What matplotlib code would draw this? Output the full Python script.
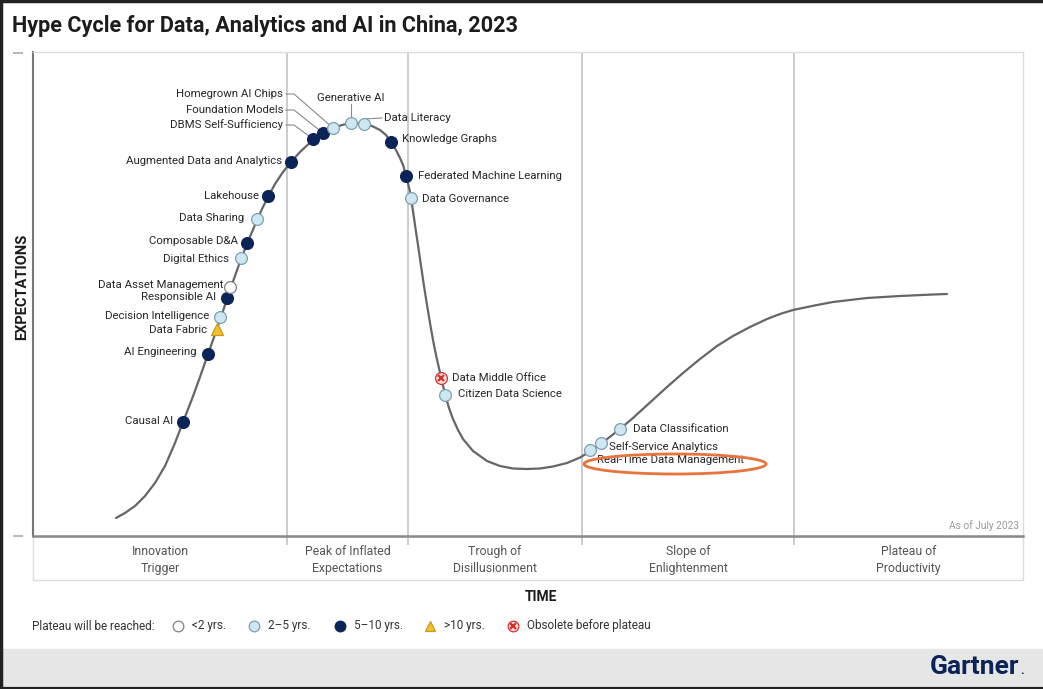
import matplotlib.pyplot as plt
from matplotlib.patches import Ellipse, Rectangle

plt.rcParams['font.family'] = ['Roboto', 'DejaVu Sans']

# hype curve (time, expectations)
curve_t = [83, 92, 102, 112, 122, 132, 142, 150, 159, 167, 175, 180, 184, 187, 191, 194, 197,
           203, 208, 214, 219, 224, 229, 235, 242, 250, 258, 267, 274, 280, 290, 300, 309, 318,
           325, 331, 339, 347, 353, 358, 363, 367, 370, 373, 375, 377, 378, 380, 382, 385, 387,
           391, 394, 397, 400, 403, 408, 412, 416, 420, 425, 430, 440, 454, 467, 480, 494, 507,
           520, 534, 547, 557, 569, 587, 600, 617, 634, 650, 667, 684, 700, 717, 734, 747, 760,
           784, 800, 834, 867, 900, 914]
curve_e = [18, 23, 30, 40, 53, 70, 93, 114, 137, 159, 182, 196, 207, 216, 228, 237, 246,
           263, 277, 292, 304, 316, 327, 339, 352, 364, 374, 384, 390.5, 396, 403, 408, 411, 413,
           413, 412, 410, 406, 401, 394, 386, 378, 371, 361, 353, 344, 338, 325, 311, 291, 277,
           250, 231, 213, 196, 181, 159, 142, 128, 117, 106, 97, 85, 75, 70, 67.5, 67, 67.5,
           69.5, 73, 78.5, 84.5, 93, 107, 118, 133.5, 149, 163, 177, 190, 200, 209, 217, 222, 226,
           231, 234, 238, 240, 241.5, 242]

# technologies on the curve
names = ['Causal AI', 'AI Engineering', 'Data Fabric', 'Decision Intelligence', 'Responsible AI',
         'Data Asset Management', 'Digital Ethics', 'Composable D&A', 'Data Sharing', 'Lakehouse',
         'Augmented Data and Analytics', 'DBMS Self-Sufficiency', 'Foundation Models',
         'Homegrown AI Chips', 'Generative AI', 'Data Literacy', 'Knowledge Graphs',
         'Federated Machine Learning', 'Data Governance', 'Data Middle Office',
         'Citizen Data Science', 'Real-Time Data Management', 'Self-Service Analytics',
         'Data Classification']
pos_t = [150, 175, 184, 187, 194, 197, 208, 214, 224, 235, 258, 280, 290, 300, 318, 331, 358,
         373, 378, 408, 412, 557, 568, 587]
pos_e = [114, 182, 207, 219, 238, 249, 278, 293, 317, 340, 374, 397, 403, 408, 413, 412, 394,
         360, 338, 158, 141, 86, 93, 107]
plateau = ['5-10', '5-10', '>10', '2-5', '5-10', '<2', '2-5', '5-10', '2-5', '5-10', '5-10',
           '5-10', '5-10', '2-5', '2-5', '2-5', '5-10', '5-10', '2-5', 'obs', '2-5', '2-5',
           '2-5', '2-5']

# label placement
lab_dx = [-10, -11, -10, -11, -11, -7, -12, -9, -13, -9, -9, -30, -40, -50, 0, 20, 11, 12, 11,
          11, 13, 7, 8, 13]
lab_dy = [1, 2, -1, 1, 1, 2, -1, 2, 1, 0, 1, 14, 23, 34, 25, 6, 3, 0, -1, 0, 1, -10, -4, 0]
lab_ha = ['right'] * 11 + ['right', 'right', 'right', 'center', 'left'] + ['left'] * 8
leader = [''] * 11 + ['elbow', 'elbow', 'elbow', 'vert', 'straight'] + [''] * 8

phase_edges = [0, 254, 375, 549, 761, 990]
phase_names = ['Innovation\nTrigger', 'Peak of Inflated\nExpectations', 'Trough of\nDisillusionment',
               'Slope of\nEnlightenment', 'Plateau of\nProductivity']

legend_keys = ['<2', '2-5', '5-10', '>10', 'obs']
legend_text = ['<2 yrs.', '2–5 yrs.', '5–10 yrs.', '>10 yrs.', 'Obsolete before plateau']

styles = {
    '<2': dict(marker='o', mfc='white', mec='#808080', ms=8.5),
    '2-5': dict(marker='o', mfc='#cfe7f1', mec='#7d9fb2', ms=8.5),
    '5-10': dict(marker='o', mfc='#0b2457', mec='#0b2457', ms=8.5),
    '>10': dict(marker='^', mfc='#f1c02e', mec='#c99a1c', ms=8),
    'obs': dict(marker='o', mfc='#fbe0e0', mec='#d8322c', ms=8.5),
}


def put_marker(axis, x, y, key, scale=1.0):
    st = dict(styles[key])
    st['ms'] = st['ms'] * scale
    axis.plot([x], [y], ls='none', mew=0.9, zorder=4, clip_on=False, **st)
    if key == 'obs':
        axis.plot([x], [y], ls='none', marker='x', ms=4.5 * scale, mew=1.6, color='#d8322c',
                  zorder=5, clip_on=False)


W, H = 1043, 689
fig = plt.figure(figsize=(W / 100, H / 100), dpi=100)

# page layer (pixel coords)
bg = fig.add_axes([0, 0, 1, 1])
bg.set_xlim(0, W)
bg.set_ylim(H, 0)
bg.axis('off')
bg.add_patch(Rectangle((0, 649), W, 40, color='#e6e6e6', zorder=0))
bg.plot([0, W], [0.5, 0.5], color='#222222', lw=2.5)
bg.plot([0.5, 0.5], [0, H], color='#222222', lw=2.5)
bg.plot([0, W], [688.5, 688.5], color='#222222', lw=3)
bg.add_patch(Rectangle((33, 536), 990, 44, fill=False, ec='#dddddd', lw=1))
bg.hlines([53, 536], 13, 23, color='#aaaaaa', lw=1.2)

bg.text(12, 26, 'Hype Cycle for Data, Analytics and AI in China, 2023', fontsize=15.6,
        fontweight='bold', color='#1c1c1c', va='center', ha='left')
bg.text(22, 287, 'EXPECTATIONS', rotation=90, fontsize=10.5, fontweight='bold',
        color='#1c1c1c', ha='center', va='center')
bg.text(541, 597, 'TIME', fontsize=10, fontweight='bold', color='#1c1c1c',
        ha='center', va='center')
bg.text(1019, 667, 'Gartner', fontsize=19, fontweight='bold', color='#0b2457',
        ha='right', va='center')
bg.text(1024, 670, '.', fontsize=9, fontweight='bold', color='#0b2457', ha='right',
        va='center')

# legend
bg.text(32, 626, 'Plateau will be reached:', fontsize=8.5, color='#333333', va='center')
leg_mx = [178, 254, 340, 430, 513]
for key, txt, mx in zip(legend_keys, legend_text, leg_mx):
    put_marker(bg, mx, 626, key, scale=0.9)
    bg.text(mx + 14, 626, txt, fontsize=8.5, color='#333333', va='center')

# chart
ax = fig.add_axes([33 / W, (H - 536) / H, 990 / W, 484 / H])
ax.set_xlim(0, 990)
ax.set_ylim(0, 484)
ax.set_xticks([])
ax.set_yticks([])
ax.spines['left'].set_color('#777777')
ax.spines['left'].set_linewidth(1.5)
ax.spines['bottom'].set_color('#888888')
ax.spines['bottom'].set_linewidth(1.8)
for s in ['top', 'right']:
    ax.spines[s].set_color('#dddddd')
    ax.spines[s].set_linewidth(1)

ax.vlines(phase_edges[1:-1], -9, 484, color='#c4c4c4', lw=1.2, zorder=1, clip_on=False)
for i, nm in enumerate(phase_names):
    mid = (phase_edges[i] + phase_edges[i + 1]) / 2
    ax.text(mid, -24, nm, ha='center', va='center', fontsize=8.8, color='#555555',
            linespacing=1.35, clip_on=False)

ax.plot(curve_t, curve_e, color='#666666', lw=1.6, zorder=2, solid_capstyle='round',
        solid_joinstyle='round')

for i, nm in enumerate(names):
    t, e = pos_t[i], pos_e[i]
    lx, ly = t + lab_dx[i], e + lab_dy[i]
    if leader[i] == 'elbow':
        ax.plot([lx + 3, lx + 11, t], [ly, ly, e], color='#8a8a8a', lw=0.8, zorder=1.5)
    elif leader[i] == 'vert':
        ax.plot([lx, t], [ly - 6, e], color='#8a8a8a', lw=0.8, zorder=1.5)
    elif leader[i] == 'straight':
        ax.plot([t, lx - 2], [e + 5, ly], color='#8a8a8a', lw=0.8, zorder=1.5)
    put_marker(ax, t, e, plateau[i])
    ax.text(lx, ly, nm, ha=lab_ha[i], va='center', fontsize=8.2, color='#262626', zorder=6)

ax.add_patch(Ellipse((642, 72), 182, 20, fill=False, ec='#e8743b', lw=2, zorder=7))
ax.text(986, 10, 'As of July 2023', ha='right', va='center', fontsize=7.3, color='#999999')

fig.savefig('out.png', dpi=100)
